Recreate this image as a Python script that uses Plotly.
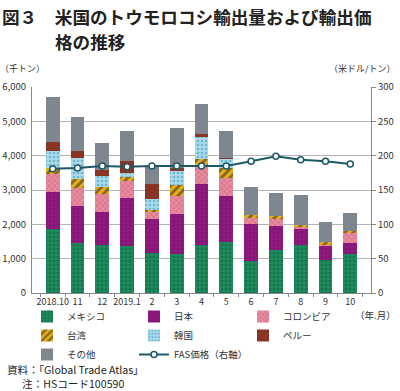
import plotly.graph_objects as go

months = ["2018.10", "11", "12", "2019.1", "2", "3", "4", "5", "6", "7", "8", "9", "10"]
mexico   = [1870, 1445, 1400, 1360, 1155, 1150, 1390, 1500, 920, 1250, 1400, 960, 1145]
japan    = [1070, 1090, 970, 1420, 990, 1145, 1780, 1320, 1090, 700, 465, 410, 305]
colombia = [520, 520, 520, 490, 215, 530, 560, 540, 175, 210, 60, 40, 290]
taiwan   = [190, 270, 195, 110, 65, 320, 175, 270, 95, 95, 55, 80, 80]
korea    = [490, 620, 310, 115, 320, 410, 630, 290, 0, 0, 0, 0, 0]
peru     = [270, 200, 185, 340, 425, 80, 85, 20, 0, 0, 0, 0, 0]
other    = [1290, 970, 775, 870, 530, 1180, 890, 790, 820, 660, 870, 570, 510]
fas      = [181, 182, 185, 184, 185, 185, 185, 185, 192, 199, 194, 192, 188]

W, H = 400, 391
ML, MR, MT, MB = 32, 29, 87, 98
PW, PH = W - ML - MR, H - MT - MB

def px(x):
    return (x - ML) / PW

def py(y):
    return (H - MB - y) / PH

FONT = "Noto Sans CJK JP, sans-serif"
TXT = "#333333"

series = [
    ("メキシコ", mexico, "#1d8a5c", dict(shape=".", fgcolor="#0d5a3a", size=4, solidity=0.35), "legend"),
    ("日本", japan, "#921a82", dict(shape="+", fgcolor="#5a0c50", size=4, solidity=0.3), "legend2"),
    ("コロンビア", colombia, "#e07a90", dict(shape="x", fgcolor="#f6c9d3", size=4, solidity=0.3), "legend3"),
    ("台湾", taiwan, "#e6ad1e", dict(shape="/", fgcolor="#1a1a1a", size=6, solidity=0.45), "legend"),
    ("韓国", korea, "#a9dcea", dict(shape=".", fgcolor="#3c8cb4", size=4, solidity=0.35), "legend2"),
    ("ペルー", peru, "#8a3423", None, "legend3"),
    ("その他", other, "#7e878f", None, "legend"),
]

fig = go.Figure()
for name, vals, color, pat, lg in series:
    marker = dict(color=color, line=dict(width=0))
    if pat:
        p = dict(pat)
        p["fillmode"] = "overlay"
        marker["pattern"] = p
    fig.add_trace(go.Bar(x=months, y=vals, name=name, marker=marker, legend=lg,
                         hoverinfo="skip"))

fig.add_trace(go.Scatter(x=months, y=fas, name="FAS価格（右軸）", yaxis="y2",
                         mode="lines+markers", legend="legend2",
                         line=dict(color="#1d5868", width=2),
                         marker=dict(symbol="circle", size=6, color="white",
                                     line=dict(color="#1d5868", width=1.5))))

leg_common = dict(orientation="v", traceorder="normal", bgcolor="rgba(0,0,0,0)",
                  font=dict(family=FONT, size=9.5, color=TXT), yanchor="top",
                  xanchor="left", itemwidth=30, tracegroupgap=0)

fig.update_layout(
    width=W, height=H,
    margin=dict(l=ML, r=MR, t=MT, b=MB, pad=0, autoexpand=False),
    paper_bgcolor="white", plot_bgcolor="white",
    barmode="stack", bargap=0.44,
    font=dict(family=FONT, size=10, color=TXT),
    xaxis=dict(type="category", tickson="boundaries", ticks="outside", ticklen=3,
               tickcolor="#888", showline=True, linecolor="#888", linewidth=1,
               tickangle=0, tickfont=dict(size=9, color=TXT), showgrid=False,
               automargin=False),
    yaxis=dict(range=[0, 6000], dtick=1000, tickformat=",", showgrid=True,
               gridcolor="#b4b4b4", gridwidth=1, showline=True, linecolor="#888",
               ticks="", tickfont=dict(size=9.5, color=TXT), zeroline=False,
               ticklabelstandoff=3, automargin=False),
    yaxis2=dict(range=[0, 300], dtick=50, overlaying="y", side="right",
                showgrid=False, showline=True, linecolor="#888", ticks="outside",
                ticklen=4, tickcolor="#888", tickfont=dict(size=9.5, color=TXT),
                zeroline=False, automargin=False),
    legend=dict(x=px(27), y=py(302), **leg_common),
    legend2=dict(x=px(134), y=py(302), **leg_common),
    legend3=dict(x=px(243), y=py(302), **leg_common),
    showlegend=True,
)

ann = [
    dict(text="<b>図３　米国のトウモロコシ輸出量および輸出価</b>", x=px(0), y=py(17),
         xanchor="left", yanchor="middle", font=dict(size=17.6, color="#222")),
    dict(text="<b>格の推移</b>", x=px(53), y=py(41), xanchor="left", yanchor="middle",
         font=dict(size=17.6, color="#222")),
    dict(text="（千トン）", x=px(-2), y=py(68), xanchor="left", yanchor="middle",
         font=dict(size=9, color=TXT)),
    dict(text="（米ドル/トン）", x=px(398), y=py(68), xanchor="right", yanchor="middle",
         font=dict(size=9, color=TXT)),
    dict(text="（年.月）", x=px(398), y=py(315), xanchor="right", yanchor="middle",
         font=dict(size=9.5, color=TXT)),
    dict(text="資料：「Global Trade Atlas」", x=px(5), y=py(369), xanchor="left",
         yanchor="middle", height=13, font=dict(size=10.6, color="#222")),
    dict(text="注：HSコード100590", x=px(20), y=py(383.5), xanchor="left",
         yanchor="middle", height=13, font=dict(size=10.6, color="#222")),
]
for a in ann:
    a.update(xref="paper", yref="paper", showarrow=False)
fig.update_layout(annotations=ann)

fig.write_html("out.html", post_script="document.body.style.margin='0';",
               config={"displayModeBar": False})
